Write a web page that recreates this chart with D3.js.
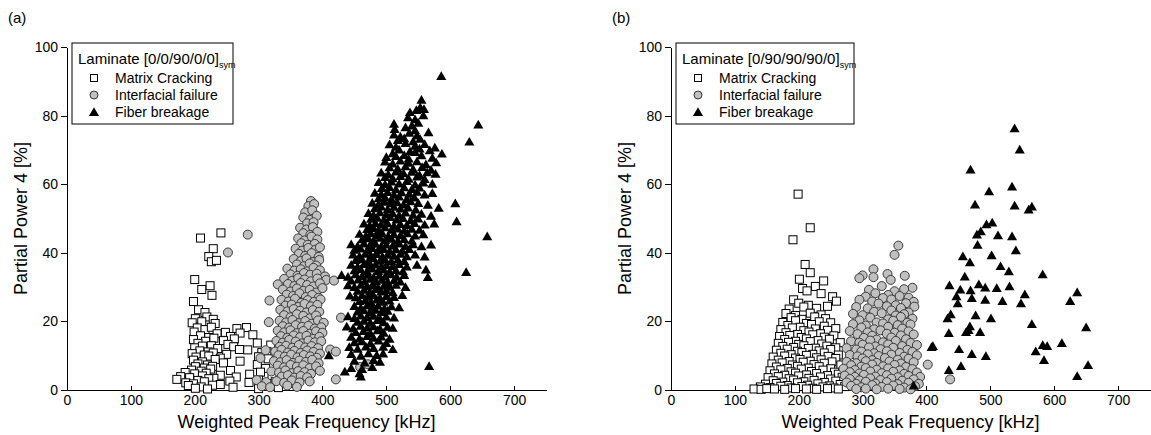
<!DOCTYPE html>
<html>
<head>
<meta charset="utf-8">
<script src="https://cdn.jsdelivr.net/npm/d3@7/dist/d3.min.js"></script>
<style>
  body { margin: 0; background: #fff; }
  svg { font-family: "Liberation Sans", Arial, sans-serif; }
  .axis path, .axis line { stroke: #000; stroke-width: 1; shape-rendering: crispEdges; }
  .axis text { font-size: 14px; fill: #000; }
</style>
</head>
<body>
<script>
// values, each point is [Weighted Peak Frequency kHz, Partial Power 4 %]
var xTicks = [0, 100, 200, 300, 400, 500, 600, 700],
    yTicks = [0, 20, 40, 60, 80, 100];

var seriesNames = ['Matrix Cracking', 'Interfacial failure', 'Fiber breakage'];
var panelLabels = ['(a)', '(b)'];
var laminates = ['Laminate [0/0/90/0/0]', 'Laminate [0/90/90/90/0]'];

// panel (a)
var aMatrix = [
  [241,45.8],[209,44.3],[229,41.2],[222,38.9],[226,37.4],[234,37.8],[200,32.2],[224,30.4],[211,29.3],[227,27.6],
  [198,25.8],[206,23.4],[216,22.6],[201,20.8],[219,21.3],[229,20.6],[196,19.6],[211,19.9],[232,19.4],[204,18.1],
  [216,17.6],[226,18.3],[266,17.9],[281,18.2],[199,16.9],[235,16.4],[248,16.8],[271,16.6],[291,16.1],[209,15.8],
  [222,15.3],[256,15.6],[262,14.9],[198,14.7],[217,14.2],[230,15.1],[245,14.4],[298,13.7],[205,13.6],[226,12.9],
  [252,13.3],[319,13.1],[200,12.3],[212,12.8],[236,12.1],[261,12.6],[270,11.8],[208,11.4],[221,11.1],[283,11.7],
  [313,11.2],[196,10.6],[215,10.2],[229,10.8],[250,10.4],[305,10.9],[202,9.6],[222,9.9],[240,9.3],[300,9.7],
  [315,9.1],[198,8.7],[212,8.2],[232,8.9],[271,8.4],[205,7.6],[220,7.3],[245,7.9],[298,7.4],[201,6.8],
  [215,6.4],[228,6.9],[311,6.3],[195,5.8],[210,5.5],[225,6.1],[256,5.7],[303,5.2],[185,5.1],[200,4.7],
  [218,4.9],[240,4.3],[286,4.6],[321,4.2],[178,3.9],[192,3.6],[212,4.1],[230,3.4],[265,3.8],[335,3.5],
  [172,3.1],[205,2.8],[222,3.3],[255,2.6],[300,2.9],[326,2.4],[186,2.1],[198,1.8],[215,2.4],[240,1.6],
  [285,2.2],[345,1.9],[190,1.3],[210,0.9],[228,1.4],[260,0.8],[310,1.1],[331,0.7],[201,0.5],[220,0.3],[300,0.4]
];
var aInter = [
  [382,55.1],[378,53.6],[387,54.2],[373,51.8],[384,52.4],[370,50.3],[380,49.6],[391,50.8],[376,48.6],[386,48.9],
  [365,47.3],[375,46.8],[385,47.5],[370,45.7],[381,45.2],[392,46.1],[283,45.3],[362,44.2],[372,43.6],[383,44.7],
  [392,43.9],[367,42.8],[377,42.3],[388,42.6],[358,41.2],[368,40.6],[378,41.4],[389,40.9],[396,41.6],[252,40.1],
  [363,39.7],[373,39.1],[383,39.9],[394,38.8],[355,38.2],[366,37.6],[375,38.4],[385,37.3],[395,37.9],[360,36.6],
  [371,36.1],[380,36.9],[390,36.3],[345,35.4],[356,34.8],[366,35.2],[376,34.6],[386,35.6],[396,34.9],[350,33.7],
  [361,33.3],[371,34.1],[381,33.6],[391,33.9],[404,33.1],[340,32.4],[352,31.8],[362,32.6],[372,32.2],[382,31.7],
  [392,32.5],[406,32.1],[418,31.9],[330,30.8],[346,30.9],[356,30.3],[366,31.2],[376,30.6],[386,30.2],[396,31.1],
  [338,29.3],[350,28.7],[360,29.6],[370,28.9],[380,29.2],[390,28.4],[400,29.7],[344,27.8],[354,27.4],[364,28.2],
  [374,27.1],[384,27.7],[394,26.9],[317,26.1],[336,26.3],[347,25.8],[357,26.6],[367,25.4],[377,26.2],[387,25.7],
  [397,26.4],[342,24.6],[352,24.9],[362,24.2],[372,25.1],[382,24.4],[392,24.8],[334,23.4],[345,22.9],[355,23.6],
  [365,23.1],[375,22.6],[385,23.3],[395,22.8],[340,21.8],[350,21.2],[360,22.1],[370,21.6],[380,20.9],[390,21.7],
  [429,21.1],[316,19.8],[333,20.2],[343,19.7],[353,20.4],[363,19.5],[373,20.1],[383,19.3],[393,20.3],[402,19.6],
  [338,18.6],[348,18.2],[358,18.9],[368,18.4],[378,18.7],[388,17.9],[398,18.3],[330,17.3],[340,16.8],[350,17.4],
  [360,16.6],[370,17.2],[380,16.4],[390,17.1],[400,16.7],[335,15.7],[345,15.2],[355,15.9],[365,15.4],[375,15.8],
  [385,14.9],[395,15.5],[328,14.3],[338,13.8],[348,14.6],[358,14.1],[368,13.6],[378,14.4],[388,13.9],[398,14.2],
  [333,12.6],[343,12.9],[353,12.3],[363,13.1],[373,12.4],[383,12.8],[393,12.2],[311,11.6],[326,11.2],[336,11.7],
  [346,10.9],[356,11.4],[366,10.8],[376,11.5],[386,11.1],[396,10.6],[412,11.8],[421,11.2],[331,10.1],[341,9.7],
  [351,10.3],[361,9.5],[371,10.2],[381,9.8],[391,9.4],[303,9.3],[324,8.4],[334,8.1],[344,8.7],[354,7.9],
  [364,8.6],[374,8.2],[384,8.8],[394,7.8],[330,7.1],[340,6.6],[350,7.3],[360,6.8],[370,7.2],[380,6.4],
  [390,6.9],[459,6.7],[471,7.5],[320,5.4],[332,5.1],[342,5.7],[352,4.9],[362,5.5],[372,5.2],[382,4.7],
  [396,5.6],[336,3.9],[346,4.3],[356,3.6],[366,4.1],[376,3.7],[297,2.9],[312,2.3],[328,2.6],[340,2.1],
  [352,2.8],[364,2.2],[380,2.5],[421,3.1],[305,1.1],[318,0.8],[345,1.3],[360,0.9]
];
var aFiber = [
  [586,91.2],[555,84.3],[553,82.1],[559,81.6],[537,80.7],[547,81.3],[558,79.8],[534,79.2],[545,78.6],[512,77.3],
  [540,76.8],[550,77.6],[644,77.1],[513,75.8],[530,76.3],[545,75.4],[512,74.2],[522,73.6],[536,74.7],[548,73.9],
  [566,74.8],[518,72.6],[528,73.1],[542,72.2],[553,72.9],[630,72.1],[505,71.3],[515,70.6],[530,71.7],[545,70.9],
  [560,71.4],[576,70.4],[520,69.8],[537,69.3],[552,70.1],[568,69.6],[510,68.7],[528,68.2],[545,69.1],[587,68.6],
  [500,67.6],[515,67.9],[535,67.2],[555,68.1],[572,67.4],[498,66.3],[510,65.7],[522,66.6],[535,65.9],[548,66.4],
  [562,65.5],[578,66.1],[505,64.6],[518,64.2],[530,64.9],[542,64.1],[556,64.7],[570,63.9],[492,63.1],[503,62.6],
  [515,63.4],[527,62.9],[540,63.3],[552,62.4],[564,63.2],[577,62.7],[498,61.8],[510,61.4],[522,62.1],[535,61.3],
  [548,61.9],[560,61.2],[488,60.3],[498,59.7],[508,60.5],[520,59.9],[532,60.6],[545,59.6],[558,60.2],[572,59.8],
  [493,58.6],[505,58.9],[515,58.2],[528,58.8],[540,58.3],[552,58.7],[482,57.2],[492,56.8],[502,57.4],[512,56.6],
  [524,57.3],[536,56.9],[548,57.5],[560,56.7],[572,57.1],[488,55.6],[498,55.9],[508,55.3],[520,56.1],[532,55.4],
  [544,55.8],[478,54.3],[488,53.9],[497,54.6],[507,54.1],[517,54.4],[527,53.8],[538,54.7],[550,54.2],[565,53.7],
  [608,54.1],[482,52.7],[492,53.2],[502,52.4],[512,53.1],[522,52.6],[534,52.9],[546,52.3],[582,52.8],[472,51.3],
  [480,50.7],[490,51.5],[500,50.9],[510,51.2],[520,50.6],[530,51.4],[542,50.8],[555,51.1],[570,50.5],[476,49.6],
  [486,49.9],[496,49.3],[506,50.1],[516,49.4],[526,49.8],[538,49.2],[550,49.7],[610,48.9],[465,48.2],[474,47.7],
  [483,48.4],[492,47.9],[502,48.3],[512,47.6],[522,48.1],[532,47.8],[544,48.4],[560,47.9],[575,48.2],[470,46.6],
  [480,46.9],[488,46.3],[498,47.1],[508,46.4],[518,46.8],[528,46.2],[540,46.7],[552,46.4],[458,45.2],[468,44.7],
  [476,45.4],[485,44.9],[494,45.3],[503,44.6],[512,45.1],[522,44.8],[533,45.4],[545,44.7],[558,45.1],[658,44.5],
  [462,43.6],[472,43.9],[480,43.3],[490,44.1],[498,43.4],[508,43.8],[518,43.2],[528,43.7],[540,43.3],[445,42.2],
  [455,41.7],[465,42.4],[474,41.9],[483,42.3],[492,41.6],[500,42.1],[510,41.8],[520,42.4],[530,41.7],[542,42.2],
  [555,41.6],[570,42.1],[450,40.6],[460,40.9],[470,40.3],[478,41.1],[487,40.4],[496,40.8],[505,40.2],[515,40.7],
  [525,40.3],[536,40.8],[448,39.2],[458,38.7],[467,39.4],[476,38.9],[485,39.3],[494,38.6],[503,39.1],[512,38.8],
  [522,39.4],[532,38.7],[545,39.2],[560,38.6],[452,37.6],[462,37.9],[472,37.3],[480,38.1],[490,37.4],[498,37.8],
  [508,37.2],[518,37.7],[528,37.3],[445,36.2],[455,35.7],[465,36.4],[474,35.9],[483,36.3],[492,35.6],[500,36.1],
  [510,35.8],[520,36.4],[532,35.7],[548,36.2],[450,34.6],[460,34.9],[470,34.3],[478,35.1],[487,34.4],[496,34.8],
  [505,34.2],[515,34.7],[526,34.3],[562,34.8],[625,34.1],[430,33.2],[440,32.7],[452,33.4],[462,32.9],[471,33.3],
  [480,32.6],[489,33.1],[498,32.8],[507,33.4],[516,32.7],[528,33.2],[565,32.6],[445,31.6],[456,31.9],[466,31.3],
  [475,32.1],[484,31.4],[493,31.8],[502,31.2],[512,31.7],[522,31.3],[440,30.2],[450,29.7],[460,30.4],[470,29.9],
  [478,30.3],[487,29.6],[496,30.1],[505,29.8],[515,30.4],[530,29.7],[455,28.6],[465,28.9],[474,28.3],[483,29.1],
  [492,28.4],[500,28.8],[510,28.2],[443,27.2],[452,26.7],[462,27.4],[472,26.9],[480,27.3],[490,26.6],[500,27.1],
  [512,26.8],[525,27.4],[458,25.6],[467,25.9],[476,25.3],[485,26.1],[495,25.4],[505,25.8],[450,24.2],[460,23.7],
  [470,24.4],[478,23.9],[487,24.3],[497,23.6],[508,24.1],[520,23.8],[455,22.6],[465,22.9],[474,22.3],[483,23.1],
  [492,22.4],[502,22.8],[440,21.2],[450,20.7],[460,21.4],[470,20.9],[480,21.3],[490,20.6],[500,21.1],[512,20.8],
  [455,19.6],[465,19.9],[475,19.3],[486,20.1],[496,19.4],[438,18.2],[448,17.7],[460,18.4],[470,17.9],[480,18.3],
  [490,17.6],[502,18.1],[510,17.8],[452,16.6],[464,16.9],[475,16.3],[486,17.1],[496,16.4],[445,15.2],[458,14.7],
  [470,15.4],[480,14.9],[492,15.3],[505,14.6],[450,13.6],[462,13.9],[475,13.3],[488,14.1],[500,13.4],[442,12.2],
  [455,11.7],[468,12.4],[480,11.9],[495,12.3],[510,11.6],[410,9.8],[445,10.2],[460,9.7],[472,10.4],[485,9.9],
  [495,10.3],[450,8.2],[466,7.7],[480,8.4],[490,7.9],[445,6.1],[462,5.8],[478,6.4],[567,6.7],[435,5.1],
  [458,4.6],[460,3.6]
];

// panel (b)
var bMatrix = [
  [199,57.1],[218,47.3],[191,43.8],[210,36.6],[218,34.2],[201,32.3],[239,31.8],[206,29.6],[226,30.2],[213,28.9],
  [235,28.1],[253,27.2],[192,26.3],[259,25.9],[200,25.3],[215,24.7],[185,23.6],[208,24.2],[228,23.8],[245,24.4],
  [180,22.3],[195,21.7],[218,22.4],[235,21.9],[188,21.1],[205,20.6],[225,21.3],[242,20.8],[175,19.7],[195,20.2],
  [212,19.4],[232,19.9],[250,19.6],[183,18.8],[202,18.3],[220,19.1],[240,18.6],[172,17.6],[190,18.1],[208,17.3],
  [226,17.8],[245,17.4],[258,17.9],[180,16.7],[198,16.2],[216,16.9],[234,16.4],[170,15.6],[186,15.9],[204,15.3],
  [222,16.1],[240,15.4],[255,15.8],[178,14.7],[195,14.2],[212,14.9],[230,14.4],[248,14.8],[168,13.6],[184,13.9],
  [200,13.3],[218,14.1],[236,13.4],[265,13.8],[175,12.7],[192,12.4],[208,12.9],[226,12.2],[244,12.8],[258,12.3],
  [165,11.6],[182,11.9],[198,11.3],[215,12.1],[232,11.4],[250,11.8],[172,10.7],[188,10.3],[205,10.9],[222,10.4],
  [240,10.8],[262,10.2],[160,9.6],[178,9.9],[195,9.3],[212,10.1],[228,9.4],[246,9.8],[258,9.2],[168,8.7],
  [185,8.3],[202,8.9],[218,8.4],[235,8.8],[252,8.2],[158,7.6],[174,7.9],[190,7.3],[207,8.1],[224,7.4],
  [240,7.8],[266,7.3],[165,6.7],[182,6.3],[198,6.9],[215,6.4],[232,6.8],[250,6.2],[155,5.6],[172,5.9],
  [188,5.3],[204,6.1],[220,5.4],[238,5.8],[256,5.2],[275,5.7],[162,4.7],[178,4.3],[195,4.9],[212,4.4],
  [228,4.8],[245,4.2],[262,4.6],[152,3.6],[168,3.9],[185,3.3],[200,4.1],[216,3.4],[234,3.8],[250,3.2],
  [268,3.7],[160,2.7],[175,2.3],[192,2.9],[208,2.4],[224,2.8],[240,2.2],[258,2.6],[280,2.3],[148,1.7],
  [165,1.9],[182,1.3],[198,2.1],[214,1.4],[230,1.8],[248,1.2],[265,1.6],[140,0.9],[155,0.7],[172,1.1],
  [188,0.6],[205,1.0],[222,0.5],[238,0.9],[255,0.6],[272,1.0],[130,0.3],[141,0.2],[150,0.4],[162,0.3],
  [178,0.2],[195,0.4],[212,0.3],[228,0.2],[245,0.4],[262,0.3]
];
var bInter = [
  [356,42.1],[350,39.4],[317,35.2],[300,33.4],[339,33.8],[366,33.3],[295,32.6],[317,32.9],[344,32.1],[330,30.3],
  [378,29.8],[310,29.2],[350,28.8],[365,29.4],[320,28.2],[340,27.7],[305,27.2],[332,26.8],[358,27.4],[372,26.9],
  [295,26.3],[315,25.8],[345,26.4],[380,25.7],[325,25.2],[352,24.7],[368,25.3],[290,24.2],[308,23.8],[338,24.4],
  [360,23.9],[381,24.3],[318,22.8],[345,23.2],[372,22.6],[285,22.2],[300,21.8],[330,22.4],[352,21.7],[365,22.1],
  [312,21.1],[340,20.6],[360,21.3],[378,20.8],[295,20.3],[322,19.7],[348,20.2],[370,19.6],[285,19.2],[305,18.8],
  [332,19.4],[355,18.9],[375,19.1],[298,18.2],[318,17.7],[340,18.4],[362,17.9],[280,17.2],[308,16.8],[328,17.4],
  [350,16.7],[372,17.1],[292,16.3],[315,15.8],[338,16.4],[360,15.9],[380,16.2],[302,15.2],[322,14.7],[345,15.3],
  [368,14.8],[282,14.2],[295,13.8],[312,14.4],[332,13.9],[352,14.3],[375,13.7],[300,13.2],[320,12.7],[340,13.3],
  [362,12.8],[385,13.1],[275,12.2],[290,11.8],[310,12.4],[328,11.9],[348,12.3],[370,11.7],[298,11.2],[318,10.7],
  [338,11.3],[358,10.8],[378,11.1],[280,10.2],[292,9.8],[308,10.4],[325,9.9],[345,10.3],[365,9.7],[385,10.1],
  [300,9.2],[315,8.7],[335,9.3],[355,8.8],[372,9.1],[275,8.2],[290,7.8],[305,8.4],[322,7.9],[342,8.3],
  [360,7.7],[380,8.1],[282,7.2],[298,6.8],[315,7.4],[332,6.9],[350,7.3],[368,6.7],[402,7.4],[270,6.2],
  [288,5.8],[305,6.4],[322,5.9],[340,6.3],[358,5.7],[378,6.1],[280,5.2],[295,4.8],[312,5.4],[330,4.9],
  [348,5.3],[365,4.7],[385,5.1],[272,4.2],[288,3.8],[302,4.4],[320,3.9],[338,4.3],[355,3.7],[372,4.1],
  [390,3.8],[280,3.2],[295,2.8],[312,3.4],[328,2.9],[345,3.3],[362,2.7],[380,3.1],[437,3.1],[275,2.2],
  [290,1.8],[305,2.4],[320,1.9],[338,2.3],[355,1.7],[372,2.1],[388,1.8],[282,1.2],[298,0.8],[315,1.4],
  [330,0.9],[348,1.3],[365,0.7],[382,1.1],[290,0.3],[305,0.4],[322,0.2],[340,0.4],[358,0.3],[375,0.2]
];
var bFiber = [
  [538,76],[546,69.8],[469,64],[534,59],[498,57.6],[476,53.8],[538,53.5],[560,52.3],[565,53.2],[494,48],
  [503,48.5],[479,45],[485,46],[512,44.8],[534,44.5],[480,42],[540,40.4],[457,38.7],[502,39],[468,36.9],
  [516,35.8],[529,34.3],[582,33.4],[460,32.8],[436,30.2],[482,30.5],[453,29],[469,28.8],[492,29.6],[510,29.4],
  [530,29.9],[636,28.2],[447,27],[554,27.6],[471,26.5],[492,26],[519,25.6],[625,25.6],[449,25],[548,25],
  [438,21.8],[477,21.5],[433,20.6],[501,20.6],[565,18.9],[468,18.3],[650,18],[435,16.3],[462,16.6],[466,17.2],
  [484,16.6],[410,12.5],[408,12.2],[582,12.8],[589,12.5],[612,13.4],[451,11.6],[571,11],[471,10.2],[493,9.6],
  [584,8.4],[653,7],[454,6.7],[435,5.5],[636,3.8],[380,1]
];

var W = 1151, H = 435;
var svg = d3.select('body').append('svg').attr('width', W).attr('height', H);

var x = d3.scaleLinear().domain([0, 750]).range([0, 479]);
var y = d3.scaleLinear().domain([0, 100]).range([343, 0]);
var tri = d3.symbol().type(d3.symbolTriangle).size(44);

function drawPanel(i, left, matrix, inter, fiber) {
  svg.append('text').attr('x', left - 59).attr('y', 23)
    .attr('font-size', 15).text(panelLabels[i]);

  var g = svg.append('g').attr('transform', 'translate(' + left + ',47)');

  g.append('g').attr('class', 'axis')
    .call(d3.axisLeft(y).tickValues(yTicks).tickSizeInner(6).tickSizeOuter(0).tickPadding(3));
  g.append('g').attr('class', 'axis')
    .attr('transform', 'translate(0,343)')
    .call(d3.axisBottom(x).tickValues(xTicks).tickSizeInner(-4).tickSizeOuter(0).tickPadding(5));

  g.append('text').attr('text-anchor', 'middle')
    .attr('transform', 'translate(-40,' + (343 / 2) + ') rotate(-90)')
    .attr('font-size', 18).text('Partial Power 4 [%]');
  g.append('text').attr('text-anchor', 'middle')
    .attr('x', x(375)).attr('y', 381)
    .attr('font-size', 18).text('Weighted Peak Frequency [kHz]');

  g.selectAll('rect.mc').data(matrix).enter().append('rect')
    .attr('class', 'mc')
    .attr('x', function(d) { return x(d[0]) - 4; })
    .attr('y', function(d) { return y(d[1]) - 4; })
    .attr('width', 8).attr('height', 8)
    .attr('fill', '#fff').attr('stroke', '#000').attr('stroke-width', 1);

  g.selectAll('circle.if').data(inter).enter().append('circle')
    .attr('class', 'if')
    .attr('cx', function(d) { return x(d[0]); })
    .attr('cy', function(d) { return y(d[1]); })
    .attr('r', 4.5)
    .attr('fill', '#c0c0c0').attr('stroke', '#3a3a3a').attr('stroke-width', 1);

  g.selectAll('path.fb').data(fiber).enter().append('path')
    .attr('class', 'fb')
    .attr('d', tri)
    .attr('transform', function(d) { return 'translate(' + x(d[0]) + ',' + y(d[1]) + ')'; })
    .attr('fill', '#000');

  // legend
  var boxW = i === 0 ? 161 : 178;
  var lg = svg.append('g').attr('transform', 'translate(' + (left + 5) + ',43)');
  lg.append('rect').attr('width', boxW).attr('height', 81)
    .attr('fill', '#fff').attr('stroke', '#000').attr('stroke-width', 1);
  var t = lg.append('text').attr('x', 6).attr('y', 21).attr('font-size', 15);
  t.append('tspan').text(laminates[i]);
  t.append('tspan').attr('font-size', 9).attr('dy', 4).text('sym');

  var rowY = [35, 52, 69];
  var sx = 22;
  lg.append('rect').attr('x', sx - 3.5).attr('y', rowY[0] - 3.5).attr('width', 7).attr('height', 7)
    .attr('fill', '#fff').attr('stroke', '#000');
  lg.append('circle').attr('cx', sx).attr('cy', rowY[1]).attr('r', 4)
    .attr('fill', '#c0c0c0').attr('stroke', '#3a3a3a');
  lg.append('path').attr('d', tri)
    .attr('transform', 'translate(' + sx + ',' + (rowY[2] + 1) + ')').attr('fill', '#000');
  seriesNames.forEach(function(n, k) {
    lg.append('text').attr('x', 43).attr('y', rowY[k] + 5).attr('font-size', 14).text(n);
  });
}

drawPanel(0, 67, aMatrix, aInter, aFiber);
drawPanel(1, 671, bMatrix, bInter, bFiber);
</script>
</body>
</html>
